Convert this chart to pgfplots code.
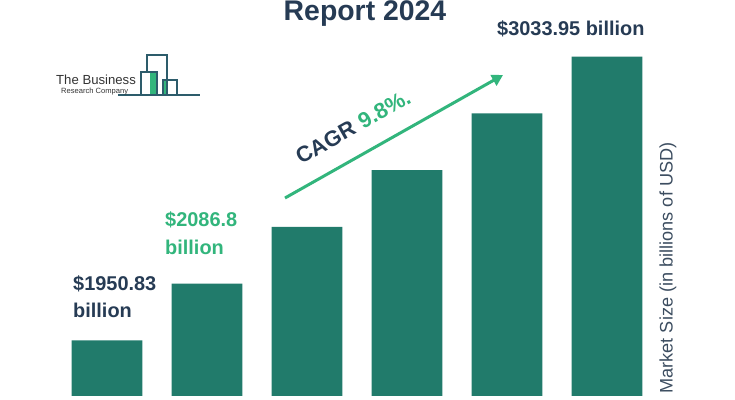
\documentclass[border=0pt]{standalone}
\usepackage{pgfplots}
\pgfplotsset{compat=1.18}
\usepackage{fontspec}
\setmainfont{Liberation Sans}
\usetikzlibrary{arrows.meta}
\definecolor{barcol}{HTML}{217B6B}
\definecolor{navy}{HTML}{263B54}
\definecolor{grn}{HTML}{32B57C}
\definecolor{axgray}{HTML}{3C4D60}
\definecolor{logoline}{HTML}{2D5C6B}
\begin{document}
\begin{tikzpicture}[x=1bp,y=1bp]
\clip (0,0) rectangle (735bp,400bp);
\begin{axis}[
  at={(0,0)}, anchor=south west,
  scale only axis, width=735bp, height=400bp,
  xmin=0, xmax=735, ymin=-4, ymax=396,
  axis lines=none, ticks=none, clip=false,
]
% bar heights (pixel units above the baseline)
\addplot[ybar, bar width=70.7, fill=barcol, draw=none] coordinates {
  (107,55.5) (207,112.3) (307,169.2) (407,225.8) (507,282.5) (607,339.3)
};
% title
\node[anchor=base, font=\bfseries\fontsize{28.5}{30}\selectfont, text=navy] at (axis cs:365,375) {Report 2024};
% labels
\node[anchor=base west, font=\bfseries\fontsize{20}{24}\selectfont, text=navy, inner sep=0] at (axis cs:497,360) {\$3033.95 billion};
\node[anchor=base west, font=\bfseries\fontsize{20}{24}\selectfont, text=navy, inner sep=0] at (axis cs:73,105) {\$1950.83};
\node[anchor=base west, font=\bfseries\fontsize{20}{24}\selectfont, text=navy, inner sep=0] at (axis cs:73,78) {billion};
\node[anchor=base west, font=\bfseries\fontsize{20}{24}\selectfont, text=grn, inner sep=0] at (axis cs:165,169) {\$2086.8};
\node[anchor=base west, font=\bfseries\fontsize{20}{24}\selectfont, text=grn, inner sep=0] at (axis cs:165,141) {billion};
% CAGR arrow
\draw[grn, line width=3bp, -{Triangle[length=11bp,width=12bp]}] (axis cs:285,198) -- (axis cs:503,321);
\node[anchor=base west, rotate=29.4, inner sep=0, font=\bfseries\fontsize{22}{24}\selectfont] at (axis cs:301,231) {\textcolor{navy}{CAGR}\hspace{7bp}\textcolor{grn}{9.8\%.}};
% right axis label
\node[rotate=90, font=\fontsize{18.2}{20}\selectfont, text=axgray] at (axis cs:668,128) {Market Size (in billions of USD)};
% logo
\fill[grn] (axis cs:150,301) rectangle (axis cs:156,324);
\fill[grn] (axis cs:164,301) rectangle (axis cs:168,315);
\draw[logoline, line width=1.3bp] (axis cs:118,301) -- (axis cs:200,301);
\draw[logoline, line width=1.3bp] (axis cs:141,301) -- (axis cs:141,324) -- (axis cs:157,324) -- (axis cs:157,301);
\draw[logoline, line width=1.3bp] (axis cs:147,324) -- (axis cs:147,341) -- (axis cs:167,341) -- (axis cs:167,301);
\draw[logoline, line width=1.3bp] (axis cs:163,301) -- (axis cs:163,316) -- (axis cs:177,316) -- (axis cs:177,301);
\node[anchor=base west, inner sep=0, font=\fontsize{13.2}{16}\selectfont, text=black!80] at (axis cs:56,311) {The Business};
\node[anchor=base west, inner sep=0, font=\fontsize{7.6}{9}\selectfont, text=black!80] at (axis cs:61,302) {Research Company};
\end{axis}
\end{tikzpicture}
\end{document}
